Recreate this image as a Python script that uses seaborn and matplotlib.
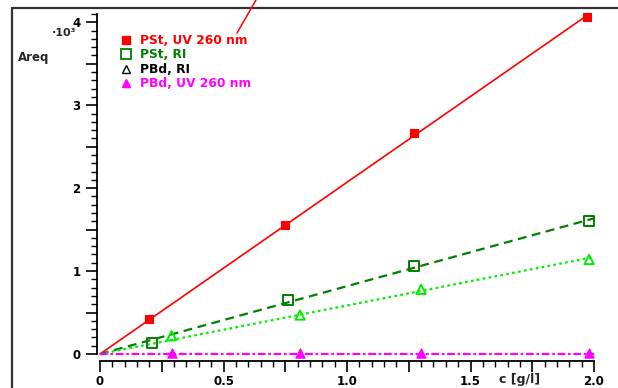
import numpy as np
import pandas as pd
import matplotlib
matplotlib.use("Agg")
import matplotlib.pyplot as plt
from matplotlib.lines import Line2D
from matplotlib.ticker import MultipleLocator, FuncFormatter
import seaborn as sns

# ---- data ----
pst_uv_x = [0.20, 0.75, 1.27, 1.97]
pst_uv_y = [0.42, 1.55, 2.66, 4.06]
pst_ri_x = [0.21, 0.76, 1.27, 1.98]
pst_ri_y = [0.13, 0.65, 1.06, 1.60]
pbd_ri_x = [0.29, 0.81, 1.30, 1.98]
pbd_ri_y = [0.22, 0.47, 0.78, 1.14]
pbd_uv_x = [0.29, 0.81, 1.30, 1.98]
pbd_uv_y = [0.01, 0.01, 0.01, 0.01]

labels = ["PSt, UV 260 nm", "PSt, RI", "PBd, RI", "PBd, UV 260 nm"]
x_ticks = [0, 0.5, 1.0, 1.5, 2.0]
y_ticks = [0, 1, 2, 3, 4]

sns.set_theme(style="white")
plt.rcParams['font.family'] = ['DejaVu Sans']

W, H = 618, 388
fig = plt.figure(figsize=(W / 100, H / 100), dpi=100)
ax = fig.add_axes([100 / W, 1 - 354 / H, 494 / W, 340 / H])

series = [
    dict(x=pst_uv_x, y=pst_uv_y, color="#ff0000", marker="s", filled=True,
         ls="-", lw=1.2, ms=38, xend=pst_uv_x[-1]),
    dict(x=pst_ri_x, y=pst_ri_y, color="#008000", marker="s", filled=False,
         ls=(0, (4, 2.5)), lw=1.6, ms=55, xend=2.0),
    dict(x=pbd_ri_x, y=pbd_ri_y, color="#00ee00", marker="^", filled=False,
         ls=(0, (1.2, 1.5)), lw=1.6, ms=45, xend=2.0),
    dict(x=pbd_uv_x, y=pbd_uv_y, color="#ff00ff", marker="^", filled=True,
         ls=(0, (3.5, 1.2, 1.2, 1.2)), lw=1.6, ms=45, xend=2.0),
]

for s in series:
    xa = np.array(s["x"]); ya = np.array(s["y"])
    slope = float((xa * ya).sum() / (xa * xa).sum())
    if s["color"] == "#ff00ff":
        fit = pd.DataFrame({"x": [0.0, s["xend"]], "y": [0.0, 0.0]})
    else:
        fit = pd.DataFrame({"x": [0.0, s["xend"]], "y": [0.0, slope * s["xend"]]})
    n_before = len(ax.get_lines())
    sns.lineplot(data=fit, x="x", y="y", ax=ax, color=s["color"],
                 linestyle=s["ls"], linewidth=s["lw"])
    for ln in ax.get_lines()[n_before:]:
        ln.set_clip_on(False)
    df = pd.DataFrame({"x": s["x"], "y": s["y"]})
    if s["filled"]:
        sns.scatterplot(data=df, x="x", y="y", ax=ax, marker=s["marker"],
                        color=s["color"], edgecolor=s["color"], s=s["ms"],
                        linewidth=0.8, clip_on=False, zorder=5)
    else:
        sns.scatterplot(data=df, x="x", y="y", ax=ax, marker=s["marker"],
                        facecolor="none", edgecolor=s["color"], s=s["ms"],
                        linewidth=1.4, clip_on=False, zorder=5)

ax.set_xlim(0, 2.0)
ax.set_ylim(0, 4.1)
ax.set_xlabel("")
ax.set_ylabel("")

for sp in ["top", "right"]:
    ax.spines[sp].set_visible(False)
for sp in ["left", "bottom"]:
    ax.spines[sp].set_color("black")
    ax.spines[sp].set_linewidth(1.3)
ax.spines["bottom"].set_position(("outward", 5))
ax.spines["left"].set_position(("outward", 2))

ax.xaxis.set_major_locator(MultipleLocator(0.25))
ax.xaxis.set_minor_locator(MultipleLocator(0.05))
ax.xaxis.set_major_formatter(FuncFormatter(
    lambda v, p: (f"{v:.1f}" if v != 0 else "0") if any(abs(v - t) < 1e-6 for t in x_ticks) else ""))
ax.yaxis.set_major_locator(MultipleLocator(0.5))
ax.yaxis.set_minor_locator(MultipleLocator(0.1))
ax.yaxis.set_major_formatter(FuncFormatter(
    lambda v, p: f"{int(round(v))}" if any(abs(v - t) < 1e-6 for t in y_ticks) else ""))

ax.tick_params(axis="both", which="major", direction="out", length=8, width=1.2,
               color="black", labelsize=8.5, labelcolor="black", bottom=True, left=True)
ax.tick_params(axis="both", which="minor", direction="out", length=4, width=1.0,
               color="black", bottom=True, left=True)
ax.tick_params(axis="y", pad=4)
ax.tick_params(axis="x", pad=2)
for lab in ax.get_xticklabels() + ax.get_yticklabels():
    lab.set_fontweight("bold")

# legend
handles = [
    Line2D([], [], ls="none", marker="s", color="#ff0000", markersize=5.5),
    Line2D([], [], ls="none", marker="s", markerfacecolor="none",
           markeredgecolor="#008000", markeredgewidth=1.3, markersize=6.5),
    Line2D([], [], ls="none", marker="^", markerfacecolor="none",
           markeredgecolor="black", markeredgewidth=1.0, markersize=5.5),
    Line2D([], [], ls="none", marker="^", color="#ff00ff", markersize=5.5),
]
leg = ax.legend(handles, labels, loc="upper left", bbox_to_anchor=(116 / W, 1 - 29 / H),
                bbox_transform=fig.transFigure, frameon=False, handlelength=0.8,
                handletextpad=0.8, labelspacing=0.12, borderaxespad=0,
                prop={"weight": "bold", "size": 8.8},
                labelcolor=["#ff0000", "#008000", "black", "#ff00ff"])

# axis texts
fig.text(18 / W, 1 - 58 / H, "Areq", fontsize=8.5, fontweight="bold", va="center", ha="left")
fig.text(52 / W, 1 - 33 / H, "·10³", fontsize=8, fontweight="bold", va="center", ha="left")
fig.text(520 / W, 1 - 380 / H, "c [g/l]", fontsize=9, fontweight="bold", va="center", ha="center")

# outer frame and stray line
fig.add_artist(Line2D([12 / W, 1.0], [1 - 8 / H, 1 - 8 / H], color="#333333", lw=1.6,
                      transform=fig.transFigure))
fig.add_artist(Line2D([12 / W, 12 / W], [1 - 8 / H, 0], color="#333333", lw=1.6,
                      transform=fig.transFigure))
fig.add_artist(Line2D([237 / W, 256 / W], [1 - 33 / H, 1.0], color="#ff0000", lw=1.1,
                      transform=fig.transFigure))

fig.savefig("out.png", dpi=100, facecolor="white")
